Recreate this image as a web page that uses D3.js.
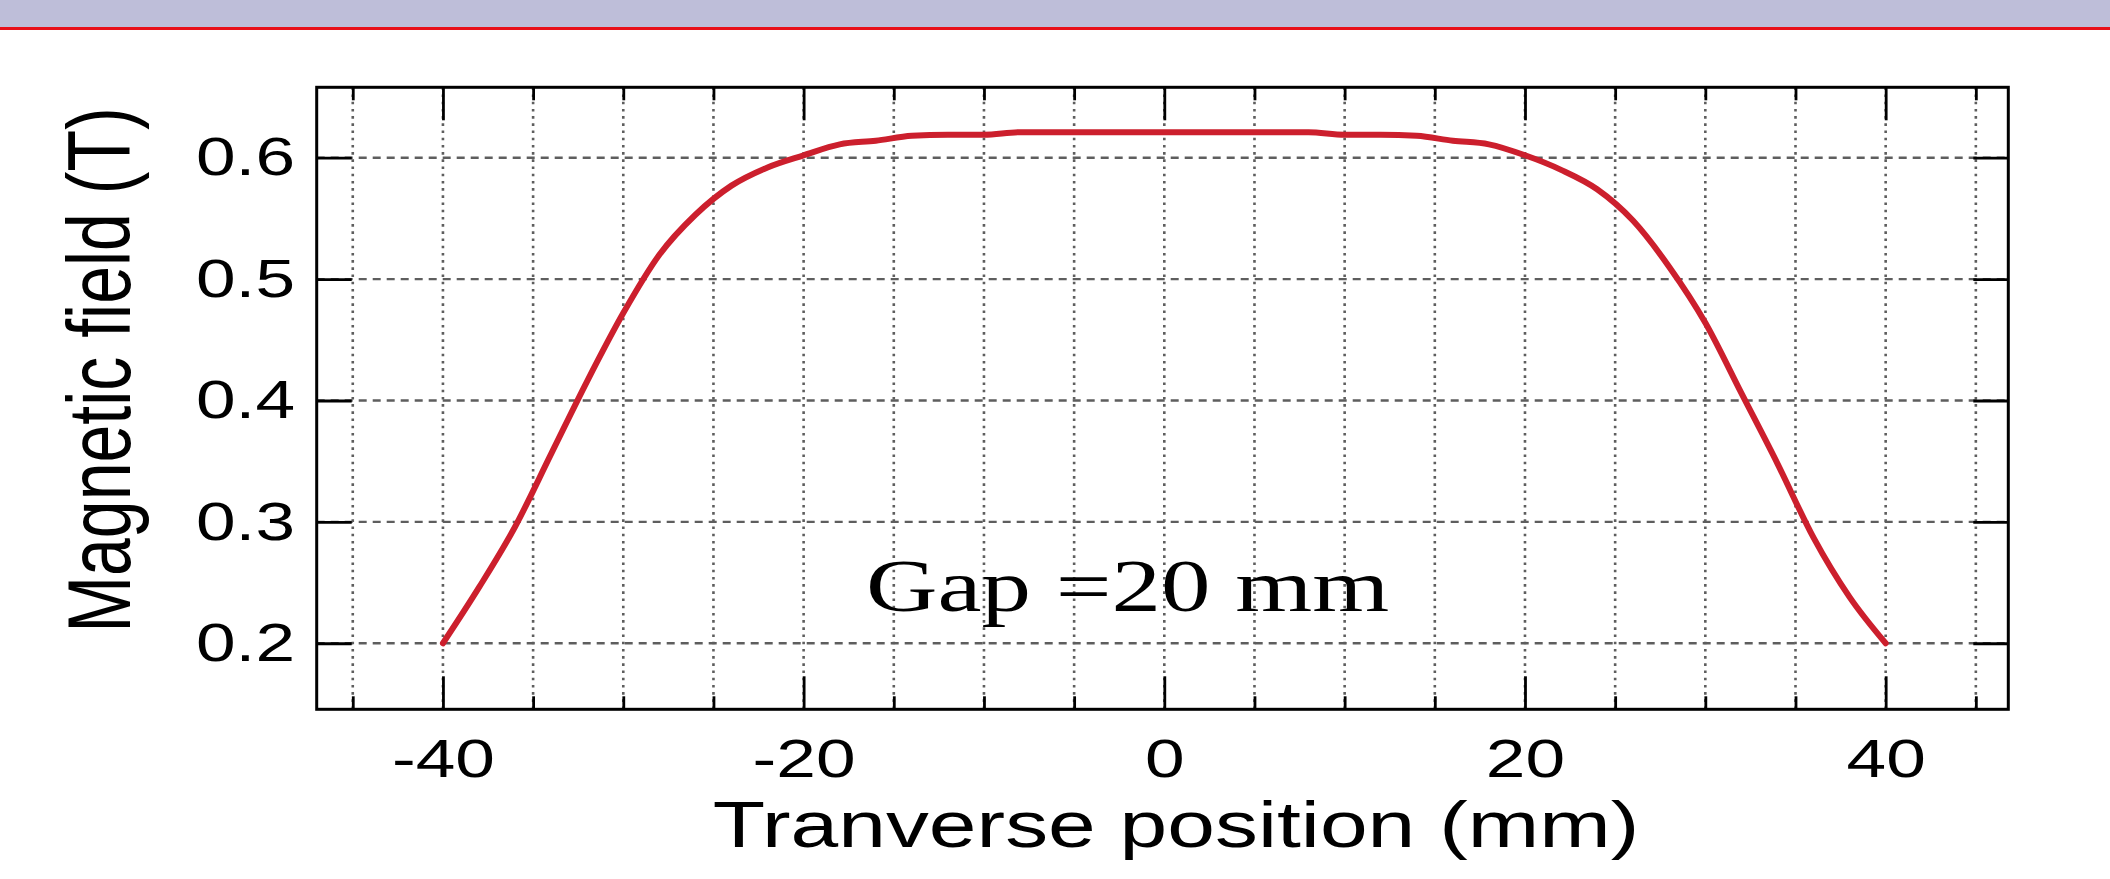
<!DOCTYPE html>
<html><head><meta charset="utf-8">
<script src="https://cdn.jsdelivr.net/npm/d3@7"></script>
<style>html,body{margin:0;padding:0;background:#fff;} svg{display:block}</style>
</head><body>
<svg id="chart" width="2110" height="879"></svg>
<script>
// ---- data ----
const positionsMm = [-40,-38,-36,-34,-32,-30,-28,-26,-24,-22,-20,-18,-16,-14,-12,-10,-8,-6,-4,-2,0,2,4,6,8,10,12,14,16,18,20,22,24,26,28,30,32,34,36,38,40];
const fieldT = [0.200,0.246,0.296,0.356,0.416,0.472,0.520,0.553,0.577,0.592,0.602,0.611,0.614,0.618,0.619,0.619,0.621,0.621,0.621,0.621,0.621,0.621,0.621,0.621,0.621,0.619,0.619,0.618,0.614,0.611,0.602,0.590,0.574,0.548,0.510,0.464,0.406,0.348,0.287,0.238,0.200];
const xLabeledTicks = [-40,-20,0,20,40];
const xMinorTicks = [-45,-35,-30,-25,-15,-10,-5,5,10,15,25,30,35,45];
const xGridTicks = [-45,-40,-35,-30,-25,-20,-15,-10,-5,0,5,10,15,20,25,30,35,40,45];
const yTickValues = [0.2,0.3,0.4,0.5,0.6];
const xDomain = [-47,46.8];
const yDomain = [0.1456,0.658];
const xTitle = "Tranverse position (mm)";
const yTitle = "Magnetic field (T)";
const annotation = "Gap =20 mm";

// ---- layout ----
const W = 2110, H = 879;
const plot = {left:316.7, right:2008.3, top:87.3, bottom:709.3};
const SX = 1.32; // horizontal stretch of the original picture
const sans = "'Liberation Sans', Arial, Helvetica, sans-serif";
const serif = "'Liberation Serif', 'Times New Roman', serif";

const svg = d3.select("#chart");
const x = d3.scaleLinear().domain(xDomain).range([plot.left, plot.right]);
const y = d3.scaleLinear().domain(yDomain).range([plot.bottom, plot.top]);

// header band
svg.append("rect").attr("x",0).attr("y",0).attr("width",W).attr("height",27).attr("fill","#bebed9");
svg.append("rect").attr("x",0).attr("y",27).attr("width",W).attr("height",3).attr("fill","#e8101a");

// grid
const grid = svg.append("g");
grid.selectAll("line.vgrid").data(xGridTicks).join("line").attr("class","vgrid")
  .attr("x1",d=>x(d)).attr("x2",d=>x(d)).attr("y1",plot.top).attr("y2",plot.bottom)
  .attr("stroke","#5e5e5e").attr("stroke-width",2.6).attr("stroke-dasharray","2.6,4.6");
grid.selectAll("line.hgrid").data(yTickValues).join("line").attr("class","hgrid")
  .attr("x1",plot.left).attr("x2",plot.right).attr("y1",d=>y(d)).attr("y2",d=>y(d))
  .attr("stroke","#5e5e5e").attr("stroke-width",2.4).attr("stroke-dasharray","8,6");

function styleAxis(g){
  g.select(".domain").remove();
  g.selectAll(".tick line").attr("stroke","#000").attr("stroke-width",2.8);
  g.attr("font-family",sans).attr("font-size",54);
  g.selectAll(".tick text").attr("fill","#000");
}
const plainFormat = d => String(d);

// bottom axis (labelled major ticks + minor ticks)
svg.append("g").attr("transform",`translate(0,${plot.bottom})`)
  .call(d3.axisBottom(x).tickValues(xLabeledTicks).tickSize(-33).tickSizeOuter(0).tickPadding(29).tickFormat(plainFormat))
  .call(styleAxis)
  .call(g=>g.selectAll(".tick text").attr("transform",`scale(${SX},1)`));
svg.append("g").attr("transform",`translate(0,${plot.bottom})`)
  .call(d3.axisBottom(x).tickValues(xMinorTicks).tickSize(-13).tickSizeOuter(0).tickFormat(""))
  .call(styleAxis);
// top axis
svg.append("g").attr("transform",`translate(0,${plot.top})`)
  .call(d3.axisTop(x).tickValues(xLabeledTicks).tickSize(-33).tickSizeOuter(0).tickFormat(""))
  .call(styleAxis);
svg.append("g").attr("transform",`translate(0,${plot.top})`)
  .call(d3.axisTop(x).tickValues(xMinorTicks).tickSize(-13).tickSizeOuter(0).tickFormat(""))
  .call(styleAxis);
// left axis
svg.append("g").attr("transform",`translate(${plot.left},0)`)
  .call(d3.axisLeft(y).tickValues(yTickValues).tickSize(-35).tickSizeOuter(0).tickPadding(16.4).tickFormat(d3.format(".1f")))
  .call(styleAxis)
  .call(g=>g.selectAll(".tick text").attr("transform",`scale(${SX},1)`));
// right axis
svg.append("g").attr("transform",`translate(${plot.right},0)`)
  .call(d3.axisRight(y).tickValues(yTickValues).tickSize(-35).tickSizeOuter(0).tickFormat(""))
  .call(styleAxis);

// frame
svg.append("rect").attr("x",plot.left).attr("y",plot.top)
  .attr("width",plot.right-plot.left).attr("height",plot.bottom-plot.top)
  .attr("fill","none").attr("stroke","#000").attr("stroke-width",3);

// curve
const line = d3.line().x((d,i)=>x(positionsMm[i])).y(d=>y(d)).curve(d3.curveMonotoneX);
svg.append("path").datum(fieldT).attr("d",line)
  .attr("fill","none").attr("stroke","#cc1f2d").attr("stroke-width",6)
  .attr("stroke-linejoin","round").attr("stroke-linecap","round");

// titles
svg.append("text").attr("transform",`translate(1176,847) scale(${SX},1)`)
  .attr("text-anchor","middle").attr("font-family",sans).attr("font-size",65).attr("fill","#000")
  .text(xTitle);
svg.append("text").attr("transform",`translate(130,370) scale(${SX},1) rotate(-90)`)
  .attr("text-anchor","middle").attr("font-family",sans).attr("font-size",68).attr("fill","#000")
  .text(yTitle);
svg.append("text").attr("transform",`translate(866,611) scale(${SX},1)`)
  .attr("text-anchor","start").attr("font-family",serif).attr("font-size",75).attr("fill","#000")
  .text(annotation);
</script>
</body></html>
